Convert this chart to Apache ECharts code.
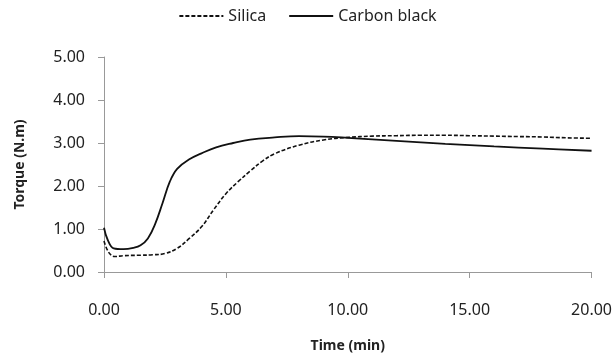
<!DOCTYPE html>
<html>
<head>
<meta charset="utf-8">
<script src="https://cdn.jsdelivr.net/npm/echarts@6/dist/echarts.min.js"></script>
<style>
  html, body { margin: 0; padding: 0; background: #fff; }
  #chart { width: 615px; height: 358px; }
</style>
</head>
<body>
<div id="chart"></div>
<script>
// time (min) / torque (N.m)
const silicaTime = [0, 0.2, 0.45, 0.8, 1.5, 2.0, 2.5, 3.0, 3.5, 4.0, 4.5, 5.0, 5.5, 6.0, 6.5, 7.0, 8.0, 9.0, 10.0, 11, 12, 13, 14, 15, 16, 17, 18, 19, 20];
const silicaTorque = [0.72, 0.45, 0.36, 0.38, 0.39, 0.40, 0.43, 0.55, 0.78, 1.05, 1.45, 1.82, 2.10, 2.35, 2.58, 2.75, 2.95, 3.07, 3.13, 3.16, 3.17, 3.18, 3.18, 3.17, 3.16, 3.15, 3.14, 3.12, 3.11];

const carbonTime = [0, 0.15, 0.4, 0.8, 1.2, 1.5, 1.8, 2.1, 2.4, 2.7, 3.0, 3.5, 4.0, 4.6, 5.3, 6.0, 7.0, 8.0, 9.0, 10, 12, 14, 16, 18, 20];
const carbonTorque = [1.03, 0.75, 0.55, 0.53, 0.56, 0.62, 0.78, 1.12, 1.6, 2.1, 2.4, 2.62, 2.76, 2.9, 3.0, 3.08, 3.13, 3.16, 3.15, 3.12, 3.05, 2.98, 2.92, 2.87, 2.82];

const seriesNames = ["Silica", "Carbon black"];

const pairs = (xs, ys) => xs.map((x, i) => [x, ys[i]]);

const chart = echarts.init(document.getElementById("chart"));
const font = "'Noto Sans', sans-serif";

chart.setOption({
  animation: false,
  textStyle: { fontFamily: font },
  legend: {
    top: 3,
    left: "center",
    itemWidth: 44,
    itemHeight: 10,
    itemGap: 22,
    itemStyle: { opacity: 0 },
    textStyle: { color: "#222", fontSize: 16, fontFamily: font },
    data: seriesNames,
  },
  grid: {
    left: 104,
    right: 23,
    top: 57,
    bottom: 85,
  },
  xAxis: {
    type: "value",
    min: 0,
    max: 20,
    interval: 5,
    name: "Time (min)",
    nameLocation: "middle",
    nameGap: 67,
    nameTextStyle: { color: "#222", fontSize: 14, fontWeight: "bold", fontFamily: font },
    axisLine: { show: true, lineStyle: { color: "#999", width: 1 } },
    axisTick: { show: true, length: 6, lineStyle: { color: "#999" } },
    axisLabel: {
      color: "#222",
      fontSize: 16,
      margin: 30,
      formatter: (v) => v.toFixed(2),
    },
    splitLine: { show: false },
  },
  yAxis: {
    type: "value",
    min: 0,
    max: 5,
    interval: 1,
    name: "Torque (N.m)",
    nameLocation: "middle",
    nameGap: 77,
    nameTextStyle: { color: "#222", fontSize: 14, fontWeight: "bold", fontFamily: font },
    axisLine: { show: true, lineStyle: { color: "#999", width: 1 } },
    axisTick: { show: true, length: 6, lineStyle: { color: "#999" } },
    axisLabel: {
      color: "#222",
      fontSize: 16,
      margin: 19,
      formatter: (v) => v.toFixed(2),
    },
    splitLine: { show: false },
  },
  series: [
    {
      name: seriesNames[0],
      type: "line",
      smooth: 0.4,
      symbol: "none",
      lineStyle: { color: "#111", width: 1.6, type: [4, 2] },
      itemStyle: { color: "#111" },
      data: pairs(silicaTime, silicaTorque),
    },
    {
      name: seriesNames[1],
      type: "line",
      smooth: 0.4,
      symbol: "none",
      lineStyle: { color: "#111", width: 1.8, type: "solid" },
      itemStyle: { color: "#111" },
      data: pairs(carbonTime, carbonTorque),
    },
  ],
});
</script>
</body>
</html>
